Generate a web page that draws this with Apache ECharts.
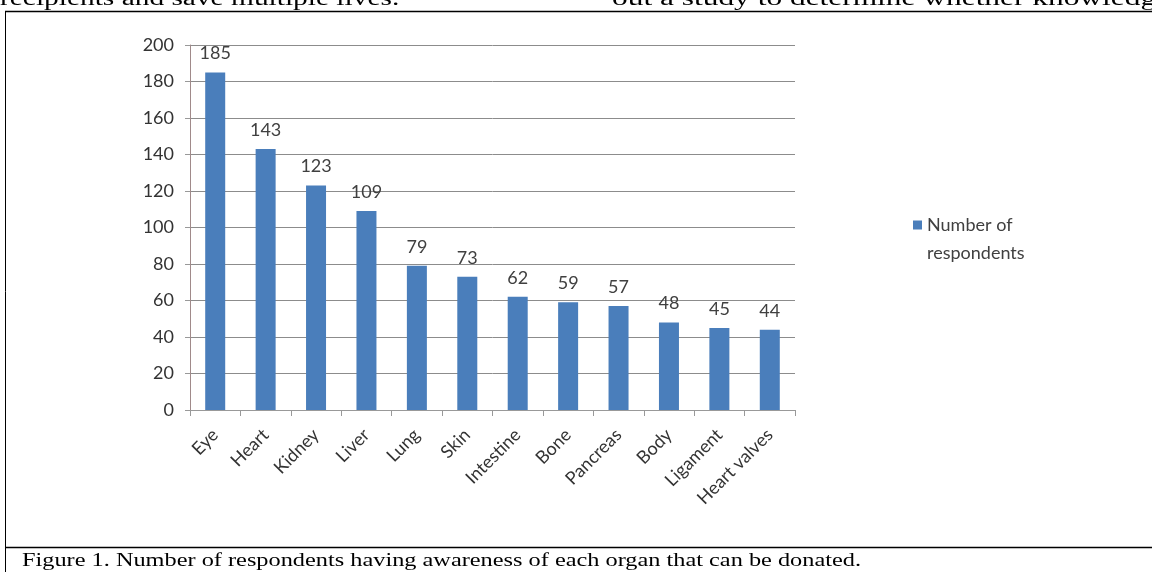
<!DOCTYPE html>
<html>
<head>
<meta charset="utf-8">
<script src="https://cdn.jsdelivr.net/npm/echarts@6/dist/echarts.min.js"></script>
<style>
  html, body { margin: 0; padding: 0; background: #fff; }
  #chart { width: 1152px; height: 572px; }
</style>
</head>
<body>
<div id="chart"></div>
<script>
const organs = ['Eye', 'Heart', 'Kidney', 'Liver', 'Lung', 'Skin', 'Intestine', 'Bone', 'Pancreas', 'Body', 'Ligament', 'Heart valves'];
const respondents = [185, 143, 123, 109, 79, 73, 62, 59, 57, 48, 45, 44];
const yTicks = [0, 20, 40, 60, 80, 100, 120, 140, 160, 180, 200];

const uiFont = 'Lato, "Open Sans", sans-serif';
const serif = '"Liberation Serif", "DejaVu Serif", serif';

let myChart = echarts.init(document.getElementById('chart'));

// legend icon: square at the top, empty space below so it lines up with the first text line
const legendIcon = 'path://M0,0L9,0L9,9L0,9Z M0,37L0.01,37Z';

let option = {
    animation: false,
    backgroundColor: '#fff',
    grid: { left: 190, top: 45, width: 605, height: 365 },
    legend: {
        data: [{ name: 'Number of\nrespondents', icon: legendIcon }],
        left: 908,
        top: 206,
        itemWidth: 9,
        itemHeight: 37,
        itemGap: 5,
        textStyle: { fontFamily: uiFont, fontSize: 18, color: '#404040', lineHeight: 28 }
    },
    xAxis: {
        type: 'category',
        data: organs,
        axisLine: { lineStyle: { color: '#999', width: 1 } },
        axisTick: { show: true, length: 6, lineStyle: { color: '#999' } },
        axisLabel: {
            rotate: 45,
            fontFamily: uiFont,
            fontSize: 18,
            color: '#333',
            margin: 22,
            interval: 0
        }
    },
    yAxis: {
        type: 'value',
        min: yTicks[0],
        max: yTicks[yTicks.length - 1],
        interval: 20,
        axisLine: { show: true, lineStyle: { color: '#a08a8a', width: 1 } },
        axisTick: { show: true, length: 5, lineStyle: { color: '#999' } },
        axisLabel: { fontFamily: uiFont, fontSize: 18, color: '#333', margin: 16 },
        splitLine: { lineStyle: { color: '#8c8c8c', width: 1 } }
    },
    series: [{
        name: 'Number of\nrespondents',
        type: 'bar',
        data: respondents,
        barWidth: 20,
        itemStyle: { color: '#4a7ebb' },
        label: {
            show: true,
            position: 'top',
            distance: 10,
            fontFamily: uiFont,
            fontSize: 18,
            color: '#404040'
        }
    }],
    graphic: [
        // surrounding text of the page
        { type: 'text', x: 0, y: -10, scaleX: 1.47, style: { text: 'recipients and save multiple lives.', font: '20px ' + serif, fill: '#000' } },
        { type: 'text', x: 612, y: -10, scaleX: 1.57, style: { text: 'out a study to determine whether knowledg', font: '20px ' + serif, fill: '#000' } },
        // figure box
        { type: 'line', shape: { x1: 5, y1: 11.5, x2: 1152, y2: 11.5 }, style: { stroke: '#000', lineWidth: 1.5 } },
        { type: 'line', shape: { x1: 5.5, y1: 11, x2: 5.5, y2: 572 }, style: { stroke: '#000', lineWidth: 1 } },
        { type: 'line', shape: { x1: 5, y1: 547.5, x2: 1152, y2: 547.5 }, style: { stroke: '#000', lineWidth: 1.5 } },
        { type: 'text', x: 22, y: 552, scaleX: 1.28, style: { text: 'Figure 1. Number of respondents having awareness of each organ that can be donated.', font: '19px ' + serif, fill: '#000' } }
    ]
};

myChart.setOption(option);
</script>
</body>
</html>
